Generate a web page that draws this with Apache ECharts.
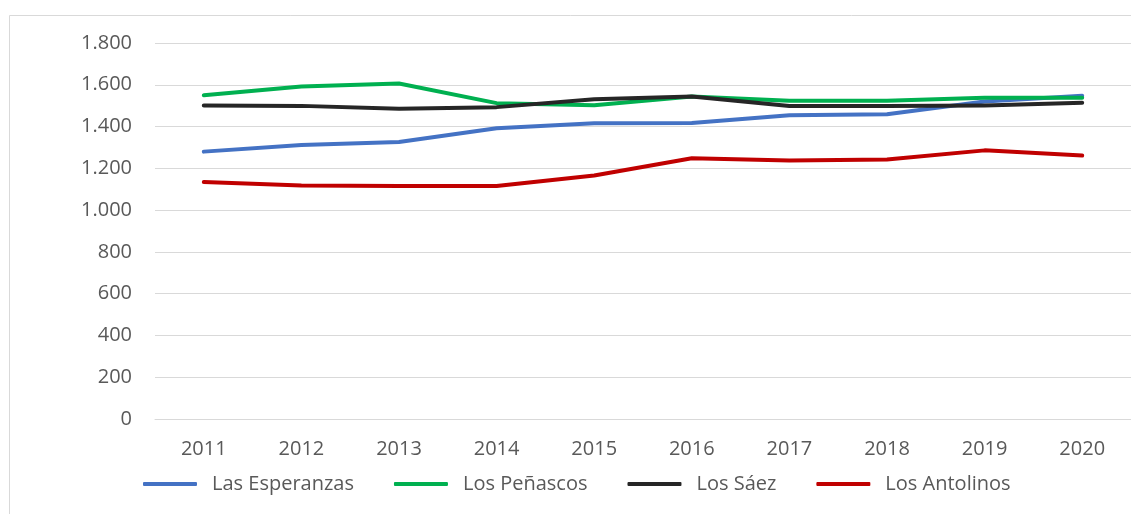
<!DOCTYPE html>
<html>
<head>
<meta charset="utf-8">
<script src="https://cdn.jsdelivr.net/npm/echarts@6/dist/echarts.min.js"></script>
<style>
html,body{margin:0;padding:0;background:#fff;}
#c{width:1131px;height:514px;}
</style>
</head>
<body>
<div id="c"></div>
<script>
const categories = ['2011','2012','2013','2014','2015','2016','2017','2018','2019','2020'];
const lasEsperanzas = [1280, 1312, 1326, 1392, 1416, 1417, 1454, 1459, 1520, 1547];
const losPenascos   = [1550, 1592, 1606, 1512, 1502, 1544, 1523, 1523, 1538, 1538];
const losSaez       = [1501, 1499, 1485, 1493, 1531, 1544, 1498, 1498, 1501, 1514];
const losAntolinos  = [1134, 1118, 1116, 1115, 1166, 1248, 1238, 1242, 1286, 1261];
const seriesNames = ['Las Esperanzas', 'Los Peñascos', 'Los Sáez', 'Los Antolinos'];
const seriesColors = ['#4472C4', '#00B050', '#262626', '#C00000'];
const yTicks = [0, 200, 400, 600, 800, 1000, 1200, 1400, 1600, 1800];

function fmt(v){
  const s = String(Math.round(v));
  return s.replace(/\B(?=(\d{3})+(?!\d))/g, '.');
}

const FONT = "'Open Sans'";
const chart = echarts.init(document.getElementById('c'), null, {renderer:'canvas'});
const data = [lasEsperanzas, losPenascos, losSaez, losAntolinos];

chart.setOption({
  animation:false,
  backgroundColor:'#fff',
  graphic:[{
    type:'rect', left:7, top:13, silent:true,
    shape:{x:0.5,y:0.5,width:1300,height:700},
    style:{fill:'none', stroke:'#d9d9d9', lineWidth:1}
  }],
  grid:{left:155, top:43, width:987, bottom:95, containLabel:false},
  legend:{
    left:143, top:474, padding:0,
    icon:'roundRect', itemWidth:54, itemHeight:4, itemGap:40,
    textStyle:{fontFamily:FONT, fontSize:20, color:'#595959', padding:[0,0,0,10]},
    data:seriesNames
  },
  xAxis:{
    type:'category', data:categories, boundaryGap:true,
    axisLine:{show:true, lineStyle:{color:'#d9d9d9', width:1}},
    axisTick:{show:false},
    axisLabel:{fontFamily:FONT, fontSize:20, color:'#595959', margin:20}
  },
  yAxis:{
    type:'value', min:yTicks[0], max:yTicks[yTicks.length-1], interval:200,
    axisLine:{show:false}, axisTick:{show:false},
    splitLine:{lineStyle:{color:'#d9d9d9', width:1}},
    axisLabel:{fontFamily:FONT, fontSize:20, color:'#595959', margin:23, formatter:fmt}
  },
  series: seriesNames.map((n,i)=>({
    name:n, type:'line', data:data[i], symbol:'none', smooth:false,
    color:seriesColors[i],
    lineStyle:{width:4, color:seriesColors[i], cap:'round', join:'round'}
  }))
});
</script>
</body>
</html>
